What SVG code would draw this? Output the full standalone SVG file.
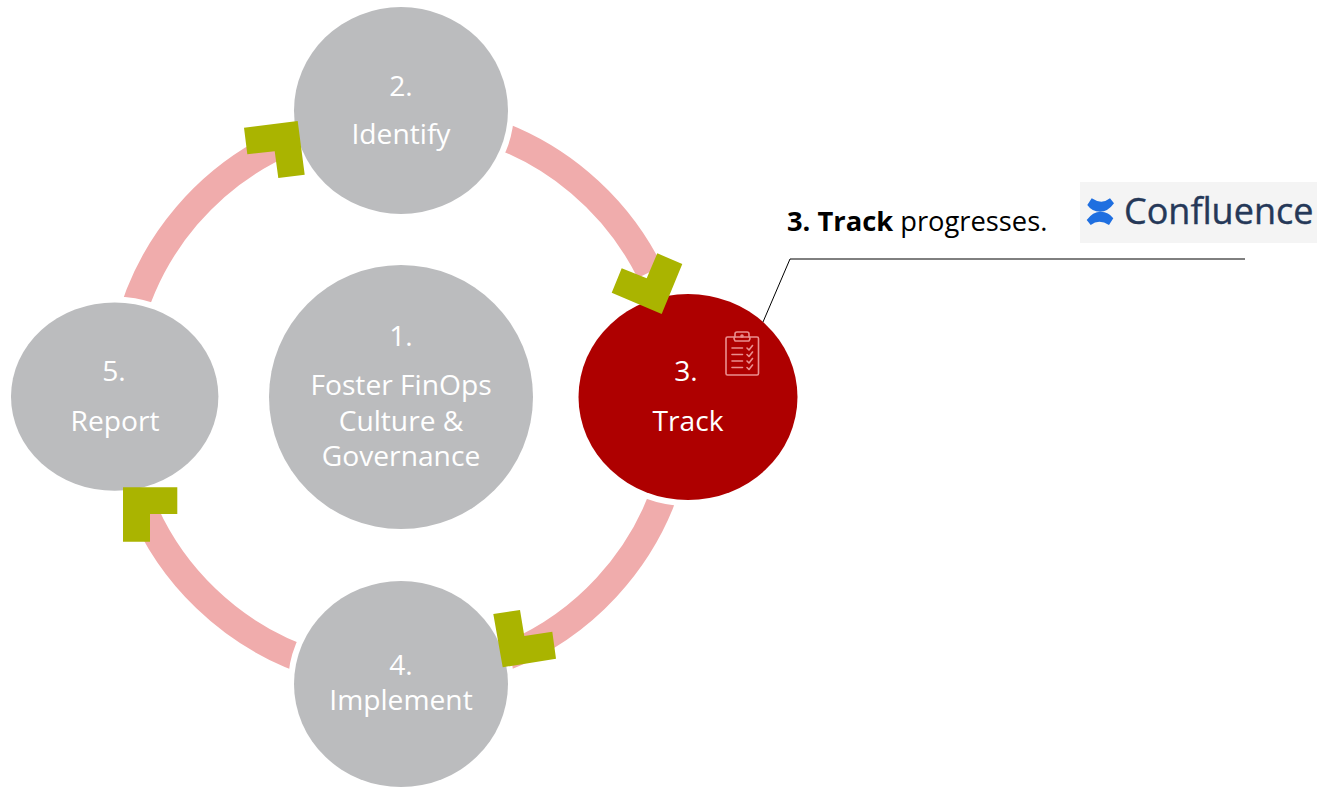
<svg xmlns="http://www.w3.org/2000/svg" width="1320" height="788" viewBox="0 0 1320 788">
<style>
.n{fill:#bbbcbe}
.o{stroke:#fff;stroke-width:12;paint-order:stroke}
.t{font-family:"Open Sans","Liberation Sans",sans-serif;font-size:28.200px;fill:#fff;text-anchor:middle}
.a{fill:none;stroke:#f0acac;stroke-width:27.500}
.h{fill:#aab400}
.i{fill:none;stroke:#ea8f8f;stroke-width:1.600;stroke-linecap:round;stroke-linejoin:round}
</style>
<rect width="1320" height="788" fill="#fff"/>
<g id="connectors">
<path class="a" d="M480 128.500A280 280 0 0 1 650 272"/>
<path class="a" d="M670 475A280 280 0 0 1 500 659"/>
<path class="a" d="M320 665A280 280 0 0 1 135 487"/>
<path class="a" d="M128 330A280 280 0 0 1 290 140"/>
</g>
<g id="node-1"><circle class="n" cx="401" cy="397" r="132"/>
<text class="t" x="401" y="346">1.</text><text class="t" x="401" y="395">Foster FinOps</text><text class="t" x="401" y="431">Culture &amp;</text><text class="t" x="401" y="466">Governance</text></g>
<g id="node-2"><ellipse class="n o" cx="401" cy="110.500" rx="107" ry="103.500"/>
<text class="t" x="401" y="96">2.</text><text class="t" x="401" y="144">Identify</text></g>
<g id="node-3"><ellipse class="o" cx="688" cy="397" rx="109.500" ry="103" fill="#ae0000"/>
<text class="t" x="686" y="381">3.</text><text class="t" x="688" y="431">Track</text>
<g id="clipboard-icon"><rect class="i" x="726" y="337" width="32.500" height="38" rx="1.500"/>
<path class="i" d="M735 337v-3q0-2 2-2h10q2 0 2 2v3q2 0 0 4h-14q-2-4 0-4z"/>
<circle class="i" cx="742" cy="336" r="1"/>
<path class="i" d="M732 348h10.500M732 354.500h10.500M732 361h10.500M732 367.500h10.500M747 348l2 2 3.500-4.500M747 354.500l2 2 3.500-4.500M747 361l2 2 3.500-4.500M747 367.500l2 2 3.500-4.500"/></g></g>
<g id="node-4"><ellipse class="n o" cx="401" cy="684" rx="107" ry="103"/>
<text class="t" x="401" y="675">4.</text><text class="t" x="401" y="710">Implement</text></g>
<g id="node-5"><ellipse class="n o" cx="114.700" cy="396.600" rx="103.700" ry="94.200"/>
<text class="t" x="114" y="381">5.</text><text class="t" x="115" y="431">Report</text></g>
<g id="arrowheads">
<polygon class="h" points="657.300,253.300 682.300,264 661.700,314 611.700,292.700 621.700,268.300 646.700,278.300"/>
<polygon class="h" points="493.300,614 520,610 524.300,636 552.300,631.700 556,658.700 502.700,667.300"/>
<polygon class="h" points="123,487.300 177.300,487.300 177.300,514 150,514 150,541.700 123,541.700"/>
<polygon class="h" points="244,127.700 297.700,121 304.700,174.700 278.300,178 274.700,151.300 247.300,154.300"/>
</g>
<g id="callout">
<polyline points="1245,259 790,259 763,322" fill="none" stroke="#000" stroke-width="1"/>
<text x="787" y="231" font-family="'Open Sans','Liberation Sans',sans-serif" font-size="27.300px" fill="#000"><tspan font-weight="700">3. Track</tspan> progresses.</text>
</g>
<g id="confluence-logo">
<rect x="1080" y="182" width="237" height="61" fill="#f4f4f4"/>
<path d="M1087.300 205L1091.700 198.300Q1101.700 205 1110 198.300L1114 203.300Q1108 211.700 1100 211.700Q1092 211.700 1087.300 205Z" fill="#1f6fe0"/>
<path d="M1113.300 218.300L1109 225Q1099 218.400 1090.700 225L1086.700 220Q1092.700 211.700 1100.700 211.700Q1108.700 211.700 1113.300 218.300Z" fill="#1f6fe0"/>
<text x="1124" y="224" font-family="'Open Sans','Liberation Sans',sans-serif" font-size="36px" fill="#253858" stroke="#253858" stroke-width="0.400">Confluence</text>
</g>
</svg>
